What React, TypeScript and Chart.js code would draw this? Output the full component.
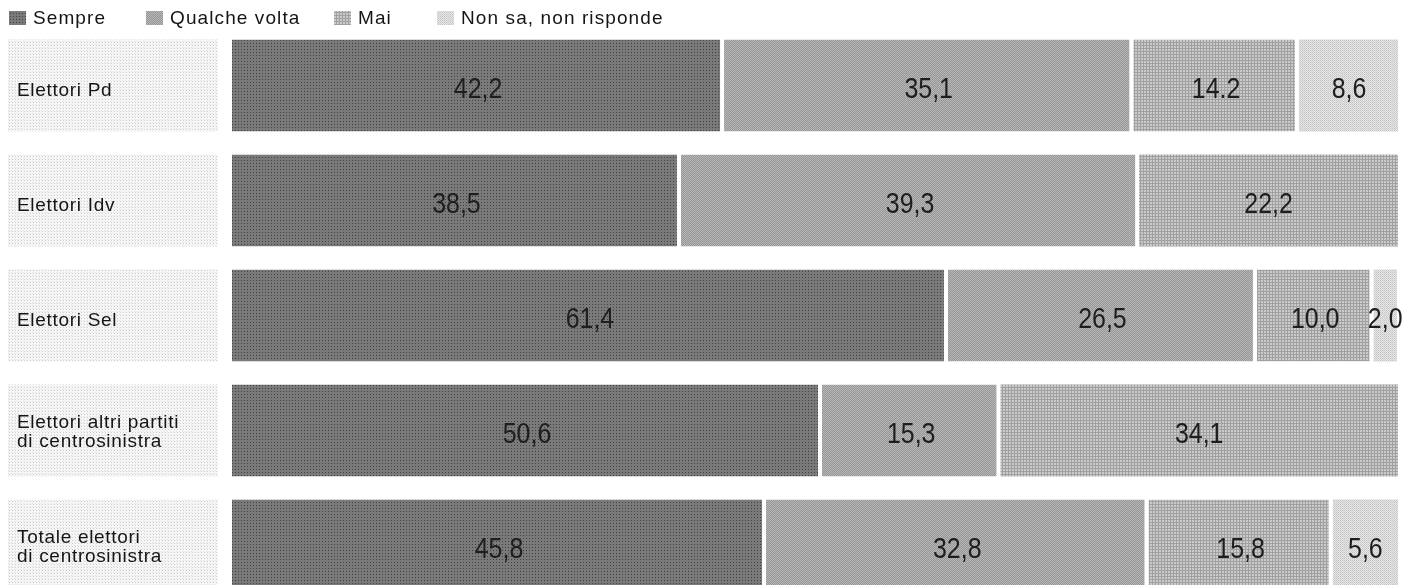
import React, { useEffect, useRef } from "react";
import { Chart, registerables } from "chart.js";

Chart.register(...registerables);

const categories: string[][] = [
  ["Elettori Pd"],
  ["Elettori Idv"],
  ["Elettori Sel"],
  ["Elettori altri partiti", "di centrosinistra"],
  ["Totale elettori", "di centrosinistra"],
];
const seriesNames = ["Sempre", "Qualche volta", "Mai", "Non sa, non risponde"];
const sempre = [42.2, 38.5, 61.4, 50.6, 45.8];
const qualcheVolta = [35.1, 39.3, 26.5, 15.3, 32.8];
const mai = [14.2, 22.2, 10.0, 34.1, 15.8];
const nonSa = [8.6, 0, 2.0, 0, 5.6];
// the source prints this one value with a dot
const dotLabels: Record<string, boolean> = { "2-0": true };

const legendX = [9, 146, 334, 437];

function makePattern(w: number, h: number, base: string, dots: [number, number, string][]) {
  const c = document.createElement("canvas");
  c.width = w;
  c.height = h;
  const g = c.getContext("2d")!;
  g.fillStyle = base;
  g.fillRect(0, 0, w, h);
  for (const [x, y, col] of dots) {
    g.fillStyle = col;
    g.fillRect(x, y, 1, 1);
  }
  const p = document.createElement("canvas").getContext("2d")!.createPattern(c, "repeat");
  return p as CanvasPattern;
}

export default function App() {
  const ref = useRef<HTMLCanvasElement | null>(null);

  useEffect(() => {
    const canvas = ref.current!;
    const pSempre = makePattern(3, 3, "#7a7a7a", [[1, 1, "#404040"]]);
    const pQualche = makePattern(2, 2, "#959595", [[0, 0, "#b8b8b8"], [1, 1, "#b8b8b8"]]);
    const pMai = makePattern(3, 3, "#cacaca", [
      [0, 0, "#a0a0a0"], [1, 0, "#a0a0a0"], [2, 0, "#a0a0a0"], [0, 1, "#a0a0a0"], [0, 2, "#a0a0a0"],
    ]);
    const pNon = makePattern(2, 2, "#e6e6e6", [[0, 0, "#c4c4c4"], [1, 1, "#d0d0d0"]]);
    const pBox = makePattern(3, 3, "#f6f6f6", [[0, 0, "#cccccc"], [2, 2, "#e4e4e4"]]);
    const fills = [pSempre, pQualche, pMai, pNon];
    const allSeries = [sempre, qualcheVolta, mai, nonSa];

    const gapWidth = (ctx: any) => {
      const d = ctx.datasetIndex;
      const i = ctx.dataIndex;
      let rest = 0;
      for (let k = d + 1; k < allSeries.length; k++) rest += allSeries[k][i];
      const right = rest > 0 && allSeries[d][i] > 0 ? 4 : 0;
      return { top: 0, bottom: 0, left: 0, right };
    };

    const boxesPlugin = {
      id: "catBoxes",
      beforeDatasetsDraw(chart: any) {
        const ctx = chart.ctx as CanvasRenderingContext2D;
        const meta = chart.getDatasetMeta(0);
        ctx.save();
        categories.forEach((lines, i) => {
          const el = meta.data[i];
          const h = el.height;
          const top = el.y - h / 2;
          ctx.fillStyle = pBox;
          ctx.fillRect(8, top, 210, h);
          ctx.fillStyle = "#151515";
          ctx.font = "19px 'Liberation Sans', Arial, sans-serif";
          (ctx as any).letterSpacing = "0.7px";
          ctx.textAlign = "left";
          ctx.textBaseline = "middle";
          const lh = 19;
          const start = el.y - ((lines.length - 1) * lh) / 2 + (lines.length === 1 ? 5 : 2);
          lines.forEach((t, j) => ctx.fillText(t, 17, start + j * lh));
        });
        ctx.restore();
      },
      afterDatasetsDraw(chart: any) {
        const ctx = chart.ctx as CanvasRenderingContext2D;
        ctx.save();
        ctx.font = "29px 'Liberation Sans', Arial, sans-serif";
        (ctx as any).letterSpacing = "0px";
        ctx.fillStyle = "#1e1e1e";
        ctx.textAlign = "center";
        ctx.textBaseline = "middle";
        const sx = 0.86;
        chart.data.datasets.forEach((ds: any, d: number) => {
          const meta = chart.getDatasetMeta(d);
          meta.data.forEach((el: any, i: number) => {
            const v = ds.data[i];
            if (!v) return;
            let s = v.toFixed(1);
            if (!dotLabels[d + "-" + i]) s = s.replace(".", ",");
            const x = (el.x + el.base) / 2;
            ctx.save();
            ctx.translate(x, el.y + 4);
            ctx.scale(sx, 1);
            ctx.fillText(s, 0, 0);
            ctx.restore();
          });
        });
        ctx.restore();
      },
      afterDraw(chart: any) {
        const ctx = chart.ctx as CanvasRenderingContext2D;
        ctx.save();
        ctx.font = "19px 'Liberation Sans', Arial, sans-serif";
        (ctx as any).letterSpacing = "1.1px";
        ctx.textAlign = "left";
        ctx.textBaseline = "middle";
        seriesNames.forEach((name, k) => {
          const x = legendX[k];
          ctx.fillStyle = fills[k];
          ctx.fillRect(x, 11, 17, 14);
          ctx.fillStyle = "#151515";
          ctx.fillText(name, x + 24, 18.5);
        });
        ctx.restore();
      },
    };

    const chart = new Chart(canvas, {
      type: "bar",
      data: {
        labels: categories.map((l) => l.join(" ")),
        datasets: allSeries.map((data, k) => ({
          label: seriesNames[k],
          data,
          backgroundColor: fills[k],
          borderColor: "#ffffff",
          borderWidth: gapWidth as any,
          borderSkipped: false,
          categoryPercentage: 1,
          barPercentage: 0.8,
        })),
      },
      options: {
        indexAxis: "y",
        responsive: false,
        animation: false,
        devicePixelRatio: 1,
        layout: { padding: { left: 232, right: 9, top: 28, bottom: 7 } },
        scales: {
          x: { stacked: true, min: 0, max: 100, display: false, grid: { display: false } },
          y: { stacked: true, display: false, grid: { display: false } },
        },
        plugins: {
          legend: { display: false },
          tooltip: { enabled: false },
        },
      },
      plugins: [boxesPlugin],
    });
    return () => chart.destroy();
  }, []);

  return (
    <div
      style={{
        position: "fixed",
        left: 0,
        top: 0,
        width: 1407,
        height: 585,
        overflow: "hidden",
        background: "#ffffff",
      }}
    >
      <canvas ref={ref} width={1407} height={610} style={{ display: "block", width: 1407, height: 610 }} />
    </div>
  );
}
